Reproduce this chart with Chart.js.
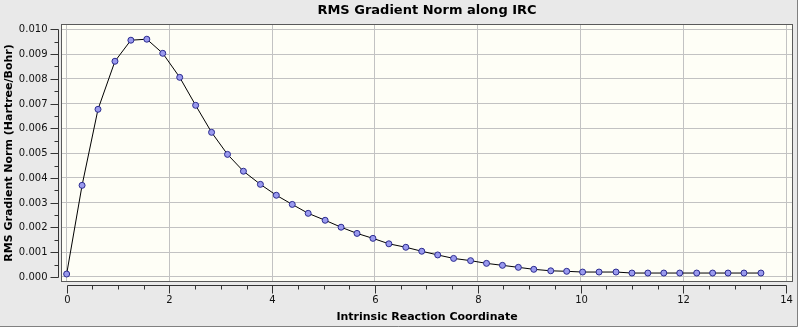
<!DOCTYPE html>
<html>
<head>
<meta charset="utf-8">
<title>RMS Gradient Norm along IRC</title>
<script src="https://cdn.jsdelivr.net/npm/chart.js@4.4.1/dist/chart.umd.min.js"></script>
<style>
  html, body { margin: 0; padding: 0; background: #e9e9e9; }
  #irc-chart { display: block; }
</style>
</head>
<body>
<canvas id="irc-chart" width="798" height="327"></canvas>
<script>
// ---- IRC path: reaction coordinate vs RMS gradient ----
const ircCoord = [
  0.00, 0.30, 0.61, 0.94, 1.25, 1.56, 1.87, 2.20, 2.51, 2.82,
  3.13, 3.44, 3.77, 4.08, 4.39, 4.70, 5.03, 5.34, 5.65, 5.96,
  6.27, 6.60, 6.91, 7.22, 7.53, 7.86, 8.17, 8.48, 8.79, 9.09,
  9.42, 9.73, 10.04, 10.36, 10.69, 11.00, 11.31, 11.62, 11.93, 12.26,
  12.57, 12.87, 13.18, 13.51
];
const gradNorm = [
  0.00012, 0.00370, 0.00677, 0.00871, 0.00956, 0.00960, 0.00903, 0.00806, 0.00693, 0.00584,
  0.00495, 0.00427, 0.00374, 0.00330, 0.00293, 0.00257, 0.00229, 0.00201, 0.00176, 0.00156,
  0.00134, 0.00120, 0.00104, 0.00089, 0.00075, 0.00066, 0.00055, 0.00047, 0.00039, 0.00031,
  0.00025, 0.00023, 0.00020, 0.00020, 0.00020, 0.00016, 0.00016, 0.00016, 0.00016, 0.00016,
  0.00016, 0.00016, 0.00016, 0.00016
];

// ---- Axis ticks / labels ----
const xTickValues = [0, 2, 4, 6, 8, 10, 12, 14];
const yTickValues = [0, 0.001, 0.002, 0.003, 0.004, 0.005, 0.006, 0.007, 0.008, 0.009, 0.010];

const chartTitle = 'RMS Gradient Norm along IRC';
const xAxisTitle = 'Intrinsic Reaction Coordinate';
const yAxisTitle = 'RMS Gradient Norm (Hartree/Bohr)';

const FONT = '"DejaVu Sans", sans-serif';

// ---- Backgrounds, frame and offset axes ----
const plotDecor = {
  id: 'plotDecor',
  beforeDraw(chart) {
    const { ctx, chartArea: a } = chart;
    ctx.save();
    ctx.fillStyle = '#e9e9e9';
    ctx.fillRect(0, 0, chart.width, chart.height);
    ctx.fillStyle = '#fefef6';
    ctx.fillRect(a.left, a.top, a.right - a.left, a.bottom - a.top);
    ctx.restore();
  },
  afterDraw(chart) {
    const { ctx, chartArea: a, scales: { x, y } } = chart;
    const px = v => Math.round(x.getPixelForValue(v)) + 0.5;
    const py = v => Math.round(y.getPixelForValue(v)) + 0.5;
    ctx.save();
    ctx.lineWidth = 1;

    // plot frame
    ctx.strokeStyle = '#5a5a5a';
    ctx.strokeRect(a.left + 0.5, a.top + 0.5, a.right - a.left - 1, a.bottom - a.top - 1);

    // window edge
    ctx.strokeStyle = '#808080';
    ctx.beginPath();
    ctx.moveTo(0, chart.height - 0.5);
    ctx.lineTo(chart.width - 0.5, chart.height - 0.5);
    ctx.lineTo(chart.width - 0.5, 0);
    ctx.stroke();

    ctx.strokeStyle = '#333';
    ctx.fillStyle = '#111';

    // y axis (sits just left of the frame)
    const yAxisX = a.left - 3 + 0.5;
    const yTop = py(yTickValues[yTickValues.length - 1]);
    const yBot = py(yTickValues[0]);
    ctx.beginPath();
    ctx.moveTo(yAxisX, yTop);
    ctx.lineTo(yAxisX, yBot);
    yTickValues.forEach((v, i) => {
      ctx.moveTo(yAxisX - 8, py(v));
      ctx.lineTo(yAxisX, py(v));
      if (i < yTickValues.length - 1) {
        const m = py((v + yTickValues[i + 1]) / 2);
        ctx.moveTo(yAxisX - 4, m);
        ctx.lineTo(yAxisX, m);
      }
    });
    ctx.stroke();

    ctx.font = '10px ' + FONT;
    ctx.textAlign = 'right';
    ctx.textBaseline = 'middle';
    yTickValues.forEach(v => ctx.fillText(v.toFixed(3), yAxisX - 11, py(v)));

    // x axis (sits just below the frame)
    const xAxisY = a.bottom + 3 + 0.5;
    ctx.beginPath();
    ctx.moveTo(px(xTickValues[0]), xAxisY);
    ctx.lineTo(px(xTickValues[xTickValues.length - 1]), xAxisY);
    xTickValues.forEach((v, i) => {
      ctx.moveTo(px(v), xAxisY);
      ctx.lineTo(px(v), xAxisY + 8);
      if (i < xTickValues.length - 1) {
        const step = (xTickValues[i + 1] - v) / 4;
        for (let k = 1; k < 4; k++) {
          ctx.moveTo(px(v + k * step), xAxisY);
          ctx.lineTo(px(v + k * step), xAxisY + 4);
        }
      }
    });
    ctx.stroke();

    ctx.textAlign = 'center';
    ctx.textBaseline = 'middle';
    xTickValues.forEach(v => ctx.fillText(String(v), px(v), xAxisY + 15));

    // titles
    const midX = (a.left + a.right) / 2;
    ctx.fillStyle = '#000';
    ctx.font = 'bold 13px ' + FONT;
    ctx.fillText(chartTitle, midX, 11);

    ctx.font = 'bold 11px ' + FONT;
    ctx.fillText(xAxisTitle, midX, 317);

    ctx.translate(9, (a.top + a.bottom) / 2);
    ctx.rotate(-Math.PI / 2);
    ctx.fillText(yAxisTitle, 0, 0);

    ctx.restore();
  }
};

const gridOnly = (values) => ({
  ticks: { display: false },
  border: { display: false },
  grid: { color: '#c2c2c2', lineWidth: 1, drawTicks: false },
  afterBuildTicks(scale) { scale.ticks = values.map(v => ({ value: v })); },
});

new Chart(document.getElementById('irc-chart'), {
  type: 'scatter',
  data: {
    datasets: [{
      data: ircCoord.map((c, i) => ({ x: c, y: gradNorm[i] })),
      showLine: true,
      borderColor: '#000',
      borderWidth: 1,
      tension: 0,
      pointRadius: 3,
      pointBackgroundColor: '#9a9aee',
      pointBorderColor: '#2b2b8f',
      pointBorderWidth: 1,
    }]
  },
  options: {
    responsive: false,
    animation: false,
    devicePixelRatio: 1,
    layout: { padding: { left: 61, right: 2, top: 24, bottom: 45 } },
    plugins: { legend: { display: false }, tooltip: { enabled: false } },
    scales: {
      x: {
        type: 'linear', min: -0.11, max: 14.134,
        ...gridOnly(xTickValues),
        afterFit(scale) { scale.height = 0; },
      },
      y: {
        type: 'linear', min: -0.000202, max: 0.010214,
        ...gridOnly(yTickValues),
        afterFit(scale) { scale.width = 0; },
      }
    }
  },
  plugins: [plotDecor]
});
</script>
</body>
</html>
